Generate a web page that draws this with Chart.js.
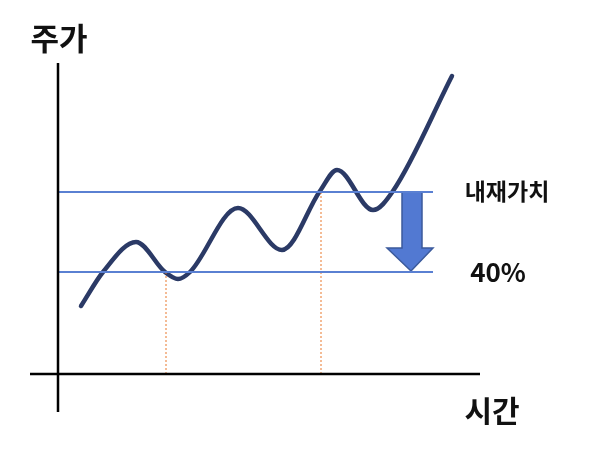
<!DOCTYPE html>
<html lang="ko">
<head>
<meta charset="UTF-8">
<title>주가와 내재가치</title>
<script src="https://cdn.jsdelivr.net/npm/chart.js"></script>
<style>
    html, body { margin: 0; padding: 0; background: #ffffff; }
    #wrap { width: 605px; height: 450px; position: relative; }
</style>
</head>
<body>
<div id="wrap"><canvas id="priceChart"></canvas></div>
<script>
    // price path over time (time units, price units; origin = where the axes cross)
    const priceTime  = [2.3, 4.5, 7.8, 10.7, 12.0, 13.2, 18.0, 22.4, 26.2, 27.9, 31.5, 33.5, 39.4];
    const priceValue = [6.8, 10.2, 13.2, 10.2, 9.5, 10.2, 16.6, 12.4, 18.3, 20.4, 16.4, 18.3, 29.8];

    // reference levels
    const intrinsicValue = 18.2;
    const discountLevel  = 10.2;   // 40% below
    const levelSpan = [0, 37.5];

    // times where the price meets each level
    const crossTimes  = [10.8, 26.3];
    const crossLevels = [discountLevel, intrinsicValue];

    // down arrow outline (time, price)
    const arrowTime  = [34.4, 36.4, 36.4, 37.5, 35.3, 32.9, 34.4, 34.4];
    const arrowPrice = [18.2, 18.2, 12.6, 12.6, 10.3, 12.6, 12.6, 18.2];

    // axis extents
    const xAxisSpan = [-2.8, 42.2];
    const yAxisSpan = [-3.8, 31.1];

    const labels = [
        { text: '주가',     t: 0.1,  p: 33.6, size: 31 },
        { text: '시간',     t: 43.4, p: -3.7, size: 30 },
        { text: '내재가치', t: 44.9, p: 18.3, size: 23 },
        { text: '40%',      t: 44.0, p: 10.2, size: 26 }
    ];

    const zip = (xs, ys) => xs.map((x, i) => ({ x: x, y: ys[i] }));

    const datasets = [
        { data: zip(xAxisSpan, [0, 0]), borderColor: '#000000', borderWidth: 2.5 },
        { data: zip([0, 0], yAxisSpan), borderColor: '#000000', borderWidth: 2.5 },
        { data: zip(levelSpan, [intrinsicValue, intrinsicValue]), borderColor: '#5a80d2', borderWidth: 2 },
        { data: zip(levelSpan, [discountLevel, discountLevel]), borderColor: '#5a80d2', borderWidth: 2 }
    ];

    crossTimes.forEach((t, i) => {
        datasets.push({
            data: zip([t, t], [crossLevels[i], 0]),
            borderColor: '#e9792c', borderWidth: 1, borderDash: [2, 2]
        });
    });

    datasets.push({
        data: zip(priceTime, priceValue),
        borderColor: '#2b3a66', borderWidth: 4.5,
        cubicInterpolationMode: 'monotone', borderCapStyle: 'round'
    });

    datasets.push({
        data: zip(arrowTime, arrowPrice),
        borderColor: '#3b5a9c', borderWidth: 1.5,
        backgroundColor: '#5279d2', fill: 'shape'
    });

    const textPlugin = {
        id: 'texts',
        afterDraw(chart) {
            const ctx = chart.ctx;
            const xs = chart.scales.x, ys = chart.scales.y;
            ctx.save();
            ctx.fillStyle = '#111111';
            ctx.textAlign = 'center';
            ctx.textBaseline = 'middle';
            labels.forEach(l => {
                ctx.font = 'bold ' + l.size + 'px "Noto Sans CJK KR", "Noto Sans", sans-serif';
                ctx.fillText(l.text, xs.getPixelForValue(l.t), ys.getPixelForValue(l.p));
            });
            ctx.restore();
        }
    };

    new Chart(document.getElementById('priceChart'), {
        type: 'line',
        data: { datasets: datasets },
        options: {
            responsive: true,
            maintainAspectRatio: false,
            animation: false,
            layout: { padding: 0 },
            elements: { point: { radius: 0 }, line: { fill: false } },
            plugins: { legend: { display: false }, tooltip: { enabled: false } },
            scales: {
                x: { type: 'linear', min: -5.8, max: 54.7, display: false },
                y: { type: 'linear', min: -7.6, max: 37.4, display: false }
            }
        },
        plugins: [textPlugin]
    });
</script>
</body>
</html>
